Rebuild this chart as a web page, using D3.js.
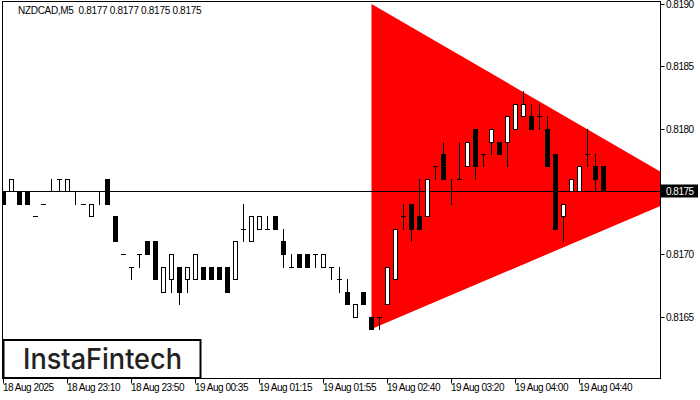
<!DOCTYPE html>
<html><head><meta charset="utf-8">
<script src="https://cdn.jsdelivr.net/npm/d3@7"></script>
<style>html,body{margin:0;padding:0;background:#fff;}svg{display:block;}</style>
</head><body>
<script>
// ---- data ----
const title = "NZDCAD,M5  0.8177 0.8177 0.8175 0.8175";
const opens  = [.8175,.8175,.8175,.8175,.8173,.8174,.8175,.8176,.8175,.8175,.8174,.8173,.8175,.8176,.8173,.8170,.8169,.8170,.8171,.8171,
                .8167,.8168,.8169,.8168,.8168,.8169,.8169,.8169,.8169,.8168,.8172,.8171,.8172,.8172,.8173,.8171,.8169,.8170,.8170,.8170,
                .8169,.8169,.8168,.8167,.8165,.8167,.8165,.8165,.8166,.8168,.8173,.8174,.8173,.8173,.8177,.8178,.8175,.8176,.8177,.8180,
                .8178,.8179,.8179,.8179,.8180,.8181,.8181,.8181,.8180,.8178,.8173,.8175,.8175,.8178,.8177,.8177];
const highs  = [.8175,.8176,.8175,.8175,.8173,.8174,.8176,.8176,.8176,.8175,.8174,.8174,.8175,.8176,.8173,.8170,.8169,.8170,.8171,.8171,
                .8169,.8170,.8169,.8169,.8170,.8169,.8169,.8169,.8169,.8171,.8174,.8173,.8173,.8173,.8173,.8172,.8170,.8170,.8170,.8170,
                .8170,.8169,.8169,.8168,.8166,.8167,.8165,.8165,.8169,.8172,.8174,.8174,.8176,.8176,.8177,.8179,.8176,.8179,.8179,.8180,
                .8178,.8180,.8179,.8181,.8182,.8183,.8182,.8182,.8181,.8178,.8174,.8176,.8177,.8180,.8178,.8177];
const lows   = [.8174,.8175,.8174,.8174,.8173,.8174,.8175,.8175,.8175,.8174,.8174,.8173,.8174,.8174,.8171,.8170,.8168,.8169,.8170,.8168,
                .8167,.8167,.8166,.8167,.8168,.8168,.8168,.8168,.8167,.8168,.8171,.8171,.8172,.8172,.8172,.8169,.8169,.8169,.8169,.8169,
                .8169,.8168,.8167,.8166,.8165,.8166,.8164,.8164,.8166,.8168,.8172,.8171,.8172,.8173,.8176,.8176,.8174,.8176,.8177,.8176,
                .8177,.8178,.8178,.8177,.8180,.8181,.8180,.8180,.8177,.8172,.8171,.8175,.8175,.8177,.8175,.8175];
const closes = [.8174,.8176,.8174,.8174,.8173,.8174,.8175,.8176,.8176,.8175,.8174,.8174,.8175,.8174,.8171,.8170,.8169,.8170,.8170,.8168,
                .8169,.8170,.8167,.8169,.8170,.8168,.8168,.8168,.8167,.8171,.8172,.8173,.8173,.8172,.8172,.8170,.8169,.8169,.8169,.8170,
                .8170,.8169,.8168,.8166,.8166,.8166,.8164,.8165,.8169,.8172,.8173,.8172,.8172,.8176,.8177,.8176,.8175,.8176,.8179,.8177,
                .8178,.8180,.8178,.8181,.8182,.8182,.8180,.8181,.8177,.8172,.8174,.8176,.8177,.8178,.8176,.8175];
const priceTicks = [0.8190, 0.8185, 0.8180, 0.8170, 0.8165];
const currentPrice = 0.8175;
const timeTickIdx = [0, 8, 16, 24, 32, 40, 48, 56, 64, 72];
const timeLabels = ["18 Aug 2025","18 Aug 23:10","18 Aug 23:50","19 Aug 00:35","19 Aug 01:15",
                    "19 Aug 01:55","19 Aug 02:40","19 Aug 03:20","19 Aug 04:00","19 Aug 04:40"];
// triangle pattern: [bar index, price]
const triIdx = [46, 86.4, 46];
const triPrice = [0.8190, 0.8175, 0.8164];

// ---- layout ----
const W = 700, H = 400;
const L = 2.5, T = 1.5, R = 660.5, B = 378.5;
const svg = d3.select("body").append("svg").attr("width", W).attr("height", H)
  .style("font-family", "'Liberation Sans', Arial, sans-serif");

const x = d3.scaleLinear().domain([0, 75]).range([3.5, 603.5]);
const y = d3.scaleLinear().domain([0.8165, 0.8190]).range([316.5, 4]);

svg.append("defs").append("clipPath").attr("id", "plot")
  .append("rect").attr("x", L).attr("y", T).attr("width", R - L).attr("height", B - T);

const g = svg.append("g").attr("clip-path", "url(#plot)");

// triangle
g.append("path")
  .attr("d", d3.line()(triIdx.map((d, i) => [x(d), y(triPrice[i])])) + "Z")
  .attr("fill", "#ff0000");

// current price line
g.append("line").attr("x1", L).attr("x2", R)
  .attr("y1", Math.round(y(currentPrice)) + 0.5).attr("y2", Math.round(y(currentPrice)) + 0.5)
  .attr("stroke", "#000").attr("stroke-width", 1);

// candles
const bars = d3.range(opens.length).map(i => ({i, o: opens[i], h: highs[i], l: lows[i], c: closes[i]}));
const cg = g.append("g").attr("shape-rendering", "crispEdges");
const py = p => Math.round(y(p));
bars.forEach(d => {
  const cx = x(d.i);
  cg.append("line").attr("x1", cx).attr("x2", cx)
    .attr("y1", py(d.h)).attr("y2", py(d.l) + 1).attr("stroke", "#000");
  const top = py(Math.max(d.o, d.c)), bot = py(Math.min(d.o, d.c));
  if (d.c < d.o) {
    cg.append("rect").attr("x", cx - 2.5).attr("y", top).attr("width", 5).attr("height", bot - top + 1)
      .attr("fill", "#000");
  } else if (d.c > d.o) {
    cg.append("rect").attr("x", cx - 2).attr("y", top + 0.5).attr("width", 4).attr("height", bot - top)
      .attr("fill", "#fff").attr("stroke", "#000");
  } else {
    cg.append("line").attr("x1", cx - 2.5).attr("x2", cx + 2.5)
      .attr("y1", top + 0.5).attr("y2", top + 0.5).attr("stroke", "#000");
  }
});

// frame
svg.append("rect").attr("x", L).attr("y", T).attr("width", R - L).attr("height", B - T)
  .attr("fill", "none").attr("stroke", "#000").attr("shape-rendering", "crispEdges");

// title
svg.append("text").attr("x", 18).attr("y", 14).attr("font-size", 10)
  .attr("letter-spacing", "-0.3px").attr("fill", "#000")
  .attr("xml:space", "preserve").style("white-space", "pre").text(title);

// price axis
const pa = svg.append("g");
priceTicks.forEach(p => {
  const yy = Math.round(y(p)) + 0.5;
  pa.append("line").attr("x1", R).attr("x2", R + 4).attr("y1", yy).attr("y2", yy).attr("stroke", "#000");
  pa.append("text").attr("x", 666).attr("y", yy + 3.5).attr("font-size", 10)
    .attr("letter-spacing", "-0.5px").attr("fill", "#000").text(p.toFixed(4));
});
const cy = Math.round(y(currentPrice)) + 0.5;
pa.append("rect").attr("x", 661).attr("y", cy - 7).attr("width", 37).attr("height", 13).attr("fill", "#000");
pa.append("text").attr("x", 666).attr("y", cy + 3.5).attr("font-size", 10)
  .attr("letter-spacing", "-0.5px").attr("fill", "#fff").text(currentPrice.toFixed(4));

// time axis
const ta = svg.append("g");
timeTickIdx.forEach((ti, k) => {
  const xx = x(ti);
  ta.append("line").attr("x1", xx).attr("x2", xx).attr("y1", B).attr("y2", B + 5).attr("stroke", "#000");
  ta.append("text").attr("x", xx - 0.5).attr("y", 391).attr("font-size", 10)
    .attr("letter-spacing", "-0.5px").attr("fill", "#000").text(timeLabels[k]);
});

// logo
svg.append("rect").attr("x", 3.5).attr("y", 340).attr("width", 197).attr("height", 38)
  .attr("fill", "#fff").attr("stroke", "#000").attr("stroke-width", 2);
svg.append("text").attr("x", 23).attr("y", 369).attr("font-size", 28)
  .attr("font-family", "Inter, 'Noto Sans', sans-serif").attr("font-weight", 500)
  .attr("fill", "#222").attr("textLength", 159).attr("lengthAdjust", "spacingAndGlyphs")
  .text("InstaFintech");
</script>
</body></html>
